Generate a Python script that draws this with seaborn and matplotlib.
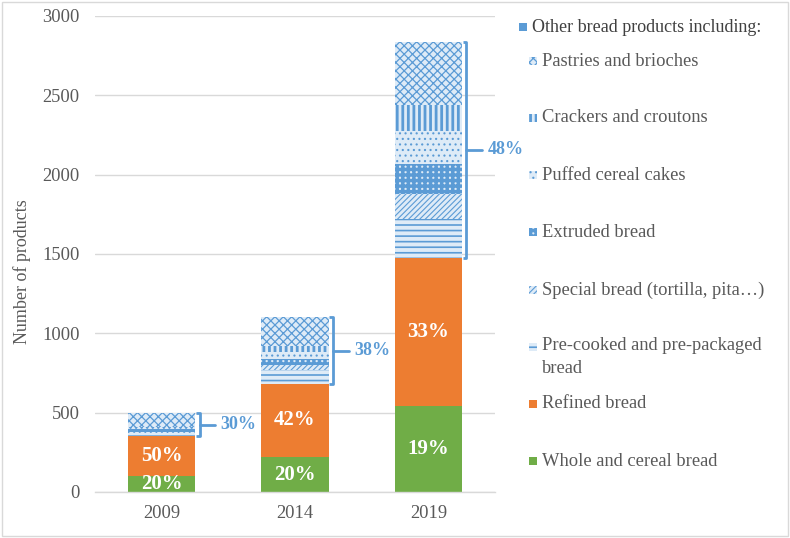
import matplotlib
matplotlib.use("Agg")
import matplotlib.pyplot as plt
from matplotlib.patches import Rectangle
import seaborn as sns
import pandas as pd
import numpy as np

# ---------------- data ----------------
years = ["2009", "2014", "2019"]
whole = [100, 220, 540]
refined = [250, 462, 937]
precooked = [25, 88, 245]
special = [5, 32, 158]
extruded = [18, 38, 190]
puffed = [5, 44, 208]
crackers = [6, 38, 158]
pastries = [91, 178, 398]

pct_whole = ["20%", "20%", "19%"]
pct_refined = ["50%", "42%", "33%"]
pct_other = ["30%", "38%", "48%"]

labels = {
    "whole": "Whole and cereal bread",
    "refined": "Refined bread",
    "precooked": "Pre-cooked and pre-packaged\nbread",
    "special": "Special bread (tortilla, pita\u2026)",
    "extruded": "Extruded bread",
    "puffed": "Puffed cereal cakes",
    "crackers": "Crackers and croutons",
    "pastries": "Pastries and brioches",
}
header = "Other bread products including:"

# ---------------- style ----------------
GREEN = "#70AD47"
ORANGE = "#ED7D31"
BLUE = "#5B9BD5"
LIGHT = "#DEEBF7"
GRID = "#D9D9D9"
TXT = "#595959"
FS = 13.3

sns.set_theme(style="white")
plt.rcParams["font.family"] = ["Liberation Serif", "DejaVu Serif"]

# stack order bottom -> top with style
stack = [
    ("whole", whole, GREEN, None, 0),
    ("refined", refined, ORANGE, None, 0),
    ("precooked", precooked, LIGHT, "---", 1.2),
    ("special", special, LIGHT, "//////", 0.8),
    ("extruded", extruded, LIGHT, "+++", 2.5),
    ("puffed", puffed, LIGHT, "...", 0.8),
    ("crackers", crackers, LIGHT, "|||", 2.0),
    ("pastries", pastries, LIGHT, "xxxx", 0.9),
]

rows = []
cum = np.zeros(len(years))
for key, vals, col, hatch, hlw in stack:
    cum = cum + np.array(vals, dtype=float)
    for y, c in zip(years, cum):
        rows.append({"year": y, "series": key, "top": c})
df = pd.DataFrame(rows)

fig = plt.figure(figsize=(7.9, 5.38), dpi=100)
L, R, B, T = 95 / 790, 495 / 790, 1 - 492 / 538, 1 - 16 / 538
ax = fig.add_axes([L, B, R - L, T - B])

BW = 0.505
# draw from top of stack downward so lower segments cover the taller bars
for key, vals, col, hatch, hlw in reversed(stack):
    sub = df[df["series"] == key]
    sns.barplot(data=sub, x="year", y="top", order=years, color=col,
                saturation=1, width=BW, ax=ax, errorbar=None)
    cont = ax.containers[-1]
    for bar in cont:
        bar.set_facecolor(col)
        bar.set_linewidth(0)
        if hatch:
            bar.set_hatch(hatch)
            bar.set_edgecolor(BLUE)
            if hasattr(bar, "set_hatch_linewidth"):
                bar.set_hatch_linewidth(hlw)
        else:
            bar.set_edgecolor(col)
        bar.set_zorder(2)

ax.set_xlim(-0.5, 2.5)
ax.set_ylim(0, 3000)
ax.set_yticks(range(0, 3001, 500))
ax.yaxis.grid(True, color=GRID, linewidth=1)
ax.set_axisbelow(True)
for s in ["left", "right", "top"]:
    ax.spines[s].set_visible(False)
ax.spines["bottom"].set_color(GRID)
ax.spines["bottom"].set_linewidth(1)
ax.tick_params(axis="both", length=0, labelsize=FS, labelcolor=TXT)
ax.tick_params(axis="y", pad=11)
ax.tick_params(axis="x", pad=9)
ax.set_xlabel("")
ax.set_ylabel("Number of products", fontsize=13, color=TXT)
ax.yaxis.set_label_coords(-0.16, 0.462)

# in-bar percentage labels
for i in range(len(years)):
    w = whole[i]
    r = refined[i]
    ax.text(i, w / 2, pct_whole[i], ha="center", va="center", color="white",
            fontsize=15, fontweight="bold", clip_on=True, zorder=5)
    ax.text(i, w + r / 2, pct_refined[i], ha="center", va="center",
            color="white", fontsize=15, fontweight="bold", clip_on=True, zorder=5)
    lo = w + r
    hi = lo + precooked[i] + special[i] + extruded[i] + puffed[i] + crackers[i] + pastries[i]
    xr = i + BW / 2
    xv = xr + 0.032
    ax.plot([xr + 0.005, xv, xv, xr + 0.005], [hi, hi, lo, lo], color=BLUE,
            lw=2, solid_joinstyle="round", solid_capstyle="butt", zorder=4,
            clip_on=False)
    mid = (lo + hi) / 2
    ax.plot([xv, xr + 0.15], [mid, mid], color=BLUE, lw=2, zorder=4,
            clip_on=False)
    ax.text(xr + 0.19, mid, pct_other[i], ha="left", va="center", color=BLUE,
            fontsize=13, fontweight="bold")

# ---------------- legend (manual layout) ----------------
def fx(px):
    return px / 790


def fy(py):
    return 1 - py / 538

sq = 8
fig.add_artist(Rectangle((fx(519), fy(27 + sq / 2)), fx(sq), sq / 538,
                         transform=fig.transFigure, facecolor=BLUE,
                         edgecolor=BLUE, linewidth=0))
fig.text(fx(532), fy(27), header, ha="left", va="center", fontsize=13,
         color="#404040")

legend_rows = [
    ("pastries", 61), ("crackers", 118), ("puffed", 175), ("extruded", 232),
    ("special", 290), ("precooked", 347), ("refined", 404), ("whole", 461),
]
style = {k: (c, h, lw) for k, v, c, h, lw in stack}
for key, ypx in legend_rows:
    col, hatch, hlw = style[key]
    rect = Rectangle((fx(529), fy(ypx + sq / 2)), fx(sq), sq / 538,
                     transform=fig.transFigure, facecolor=col,
                     edgecolor=BLUE if hatch else col, linewidth=0,
                     hatch=hatch)
    if hatch and hasattr(rect, "set_hatch_linewidth"):
        rect.set_hatch_linewidth(hlw)
    fig.add_artist(rect)
    lab = labels[key]
    if "\n" in lab:
        fig.text(fx(542), fy(ypx - 10), lab, ha="left", va="top", fontsize=FS,
                 color=TXT, linespacing=1.45)
    else:
        fig.text(fx(542), fy(ypx), lab, ha="left", va="center", fontsize=FS,
                 color=TXT)

# figure border
fig.add_artist(Rectangle((0.002, 0.003), 0.996, 0.994, transform=fig.transFigure,
                         fill=False, edgecolor=GRID, linewidth=1))

fig.savefig("out.png", dpi=100)
